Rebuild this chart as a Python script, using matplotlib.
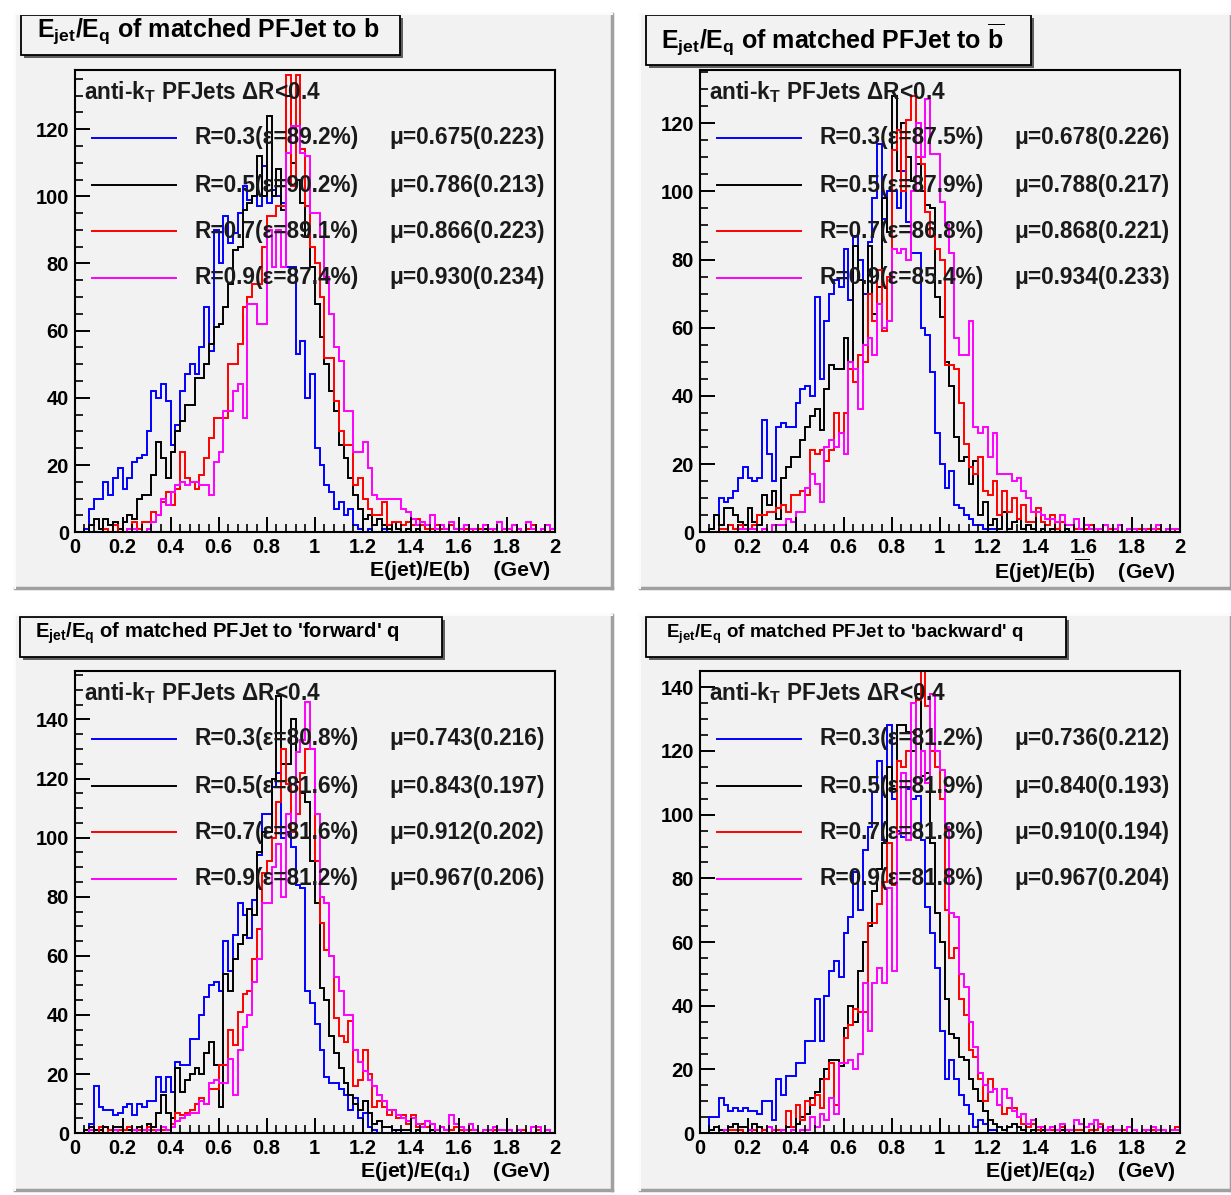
import numpy as np
import matplotlib
matplotlib.use("Agg")
import matplotlib.pyplot as plt
from matplotlib.patches import Rectangle
from matplotlib.ticker import MultipleLocator, FuncFormatter

plt.rcParams['font.family'] = ['Liberation Sans', 'DejaVu Sans']
plt.rcParams['font.weight'] = 'bold'
plt.rcParams['mathtext.fontset'] = 'custom'
plt.rcParams['mathtext.rm'] = 'Liberation Sans:bold'
plt.rcParams['mathtext.it'] = 'Liberation Sans:bold'
plt.rcParams['mathtext.bf'] = 'Liberation Sans:bold'
plt.rcParams['mathtext.default'] = 'rm'

# 100 bins of width 0.02 between 0 and 2
edges = np.linspace(0, 2, 101)

# ---- panel 1: matched to b ----
blue_b = [0,0,1,7,10,10,15,11,16,19, 13,16,21,22,23,30,42,40,44,39,
          26,32,42,47,50,47,55,67,54,90, 80,94,86,89,95,103,99,100,97,109,
          98,102,100,98,79,79,53,57,40,47, 25,20,14,12,7,9,5,7,2,1,
          0,1,0,0,1,0,0,0,0,0, 0,0,0,0,0,0,0,0,0,0,
          0,0,0,0,0,0,0,0,0,0, 0,0,0,0,0,0,0,0,0,0]
black_b = [0,0,0,2,4,1,4,2,3,1, 3,5,4,10,11,11,17,27,22,16,
           24,30,33,38,38,46,46,50,56,61, 62,67,74,84,85,96,98,100,112,100,
           124,100,108,96,130,110,105,98,88,79, 68,58,50,42,36,26,22,16,11,7,
           4,5,2,4,2,1,3,1,0,1, 0,1,0,0,1,0,0,0,0,0,
           0,0,0,0,0,1,0,0,0,0, 0,0,0,0,0,0,0,0,0,0]
red_b = [0,0,0,0,0,0,1,0,2,0, 0,1,3,1,3,3,6,5,9,12,
         8,13,24,16,15,13,17,22,28,34, 34,34,50,50,56,67,70,74,74,85,
         94,94,97,97,136,103,136,114,97,85, 80,70,52,52,39,30,26,26,14,16,
         10,7,5,5,9,2,3,3,2,3, 2,4,2,1,1,2,1,1,2,1,
         0,1,0,1,1,0,1,0,0,1, 1,0,1,0,1,2,0,1,0,1]
mag_b = [0,0,0,0,0,0,0,0,0,0, 0,1,1,0,0,1,3,5,10,8,
         12,14,15,14,15,15,14,14,11,21, 24,36,36,42,44,34,68,68,62,62,
         90,79,90,79,113,121,121,113,112,95, 95,88,76,65,55,51,36,36,24,24,
         27,19,11,10,10,10,10,10,7,6, 4,2,3,2,5,1,2,1,3,1,
         1,2,1,1,0,2,1,1,3,1, 1,2,1,0,3,1,0,1,2,1]

# ---- panel 2: matched to b-bar ----
blue_bb = [0,0,1,5,10,9,10,12,16,19, 16,15,16,33,23,15,31,32,31,31,
           38,42,43,40,69,45,62,70,74,72, 83,68,87,80,70,85,98,114,92,100,
           100,95,106,91,82,82,60,58,47,29, 20,13,18,8,7,5,4,2,2,1,
           1,1,0,0,0,0,0,0,0,0, 0,0,0,0,0,0,0,0,0,0,
           0,0,0,0,0,0,0,0,0,0, 0,0,0,0,0,0,0,0,0,0]
black_bb = [0,0,1,5,2,7,7,5,3,2, 7,3,2,11,8,12,4,16,19,22,
            22,27,31,34,36,30,42,49,48,48, 57,50,84,74,50,84,64,72,98,88,
            128,106,120,110,103,108,100,96,95,69, 63,50,43,28,21,22,14,21,5,9,
            2,4,1,6,1,3,4,1,2,1, 0,1,0,1,1,0,1,0,0,0,
            0,0,0,0,0,0,0,0,0,0, 0,0,0,0,0,0,0,0,0,0]
red_bb = [0,0,0,0,1,1,2,1,2,1, 1,2,5,5,6,6,7,8,6,11,
          11,12,11,24,23,24,21,24,35,29, 35,48,44,52,50,70,62,77,59,75,
          112,118,100,121,128,110,108,94,87,83, 80,49,49,48,38,26,19,17,22,12,
          11,15,5,12,6,10,4,8,3,3, 7,3,2,5,1,3,2,2,1,1,
          1,2,0,1,0,1,1,0,0,1, 0,1,0,1,0,1,0,1,0,1]
mag_bb = [0,0,0,0,0,0,0,0,1,1, 1,1,0,1,0,2,2,2,4,3,
          6,6,13,17,14,9,25,27,25,29, 23,50,48,36,55,57,52,67,60,62,
          83,82,83,80,100,120,110,127,111,111, 97,90,82,57,52,52,62,31,29,31,
          22,29,17,17,17,15,16,12,10,6, 6,5,4,4,3,5,2,2,4,1,
          2,1,1,1,2,0,1,2,0,1, 1,0,1,0,1,2,0,1,1,1]

# ---- panel 3: matched to forward q ----
blue_q1 = [0,0,1,3,16,9,8,8,6,7, 9,10,6,10,9,11,11,19,14,19,
           14,24,23,23,32,32,40,46,50,51, 48,65,55,67,78,74,66,79,94,108,
           108,117,122,100,102,97,84,83,48,44, 37,28,19,17,17,15,13,8,12,5,
           7,2,1,0,0,0,0,1,0,0, 0,0,0,0,0,0,0,0,0,0,
           0,0,0,0,0,0,0,0,0,0, 0,0,0,0,0,0,0,0,0,0]
black_q1 = [0,0,1,2,1,1,2,1,2,2, 1,1,1,2,1,3,2,7,13,7,
            5,22,14,18,20,22,20,27,31,23, 9,54,48,59,64,67,76,74,95,102,
            102,120,148,125,125,140,119,115,112,92, 78,49,45,33,27,22,17,13,10,8,
            11,7,3,4,2,2,1,1,1,1, 0,1,0,0,1,0,0,0,0,0,
            0,0,0,0,0,0,0,0,0,0, 0,0,0,0,0,0,0,0,0,0]
red_q1 = [0,0,0,1,0,2,0,1,0,1, 1,2,1,1,0,2,1,0,1,1,
          3,7,6,7,8,10,12,10,15,15, 23,23,35,30,41,47,48,59,69,88,
          92,100,112,130,118,102,108,122,130,130, 92,71,62,60,39,33,31,38,16,18,
          28,20,9,11,9,6,8,5,6,3, 6,2,3,2,3,1,2,1,1,2,
          1,0,1,1,0,1,0,1,0,0, 1,0,0,1,0,0,1,0,0,0]
mag_q1 = [0,0,0,1,0,0,0,0,1,0, 0,0,1,0,1,1,0,1,2,1,
          2,4,5,6,7,7,11,10,17,18, 17,17,25,13,28,36,40,51,59,78,
          78,90,98,80,108,105,129,133,146,130, 108,80,78,60,53,48,40,40,28,24,
          21,18,16,13,11,8,8,6,5,4, 5,3,2,4,3,1,2,1,6,3,
          2,1,3,1,0,1,1,2,1,1, 1,0,1,0,0,2,2,0,1,0]

# ---- panel 4: matched to backward q ----
blue_q2 = [0,0,5,5,11,9,7,8,7,8, 7,7,6,10,10,4,17,12,18,18,
           22,22,29,29,42,29,43,51,54,49, 63,68,82,70,89,96,107,117,92,128,
           105,95,93,108,105,106,92,71,63,52, 32,17,23,17,12,9,6,2,4,3,
           1,1,0,0,0,0,0,0,0,0, 0,0,0,0,0,0,0,0,0,0,
           0,0,0,0,0,0,0,0,0,0, 0,0,0,0,0,0,0,0,0,0]
black_q2 = [0,0,1,2,1,1,2,3,2,2, 1,3,2,0,2,1,1,1,2,2,
            3,5,6,11,13,17,20,23,23,21, 33,40,35,51,60,65,76,83,91,115,
            108,128,128,126,120,138,112,113,91,69, 60,42,31,30,24,23,17,14,10,7,
            4,3,2,1,2,3,2,1,0,1, 0,1,0,0,0,1,0,0,0,0,
            0,0,0,0,0,0,0,0,0,0, 0,0,0,0,0,0,0,0,0,0]
red_q2 = [0,0,0,0,0,0,1,1,1,0, 0,1,0,1,0,1,1,0,7,2,
          9,4,10,9,12,8,17,22,9,22, 30,34,39,38,38,66,66,72,79,91,
          78,117,115,120,126,136,146,134,120,115, 105,70,55,58,42,37,26,24,17,10,
          17,14,9,6,8,8,5,3,2,3, 1,2,1,1,0,2,1,0,1,1,
          0,1,1,3,0,1,0,0,1,0, 0,0,1,0,1,0,0,0,1,2]
mag_q2 = [0,0,0,0,0,1,0,0,0,0, 1,0,0,0,2,1,0,1,0,1,
          0,1,1,5,2,6,4,11,6,22, 22,23,20,25,47,32,47,52,47,77,
          51,94,113,92,135,110,120,110,138,120, 114,96,69,68,50,46,35,27,19,15,
          13,14,9,14,11,7,5,6,3,4, 2,2,1,2,1,3,1,1,4,3,
          2,3,4,2,1,2,1,1,0,2, 1,0,1,1,2,1,1,0,1,1]

radii = ['0.3', '0.5', '0.7', '0.9']
colors = ['#0000ff', '#000000', '#ff0000', '#ff00ff']

titles = [r'E$_{jet}$/E$_{q}$ of matched PFJet to b',
          r'E$_{jet}$/E$_{q}$ of matched PFJet to $\overline{b}$',
          r"E$_{jet}$/E$_{q}$ of matched PFJet to 'forward' q",
          r"E$_{jet}$/E$_{q}$ of matched PFJet to 'backward' q"]
xlabels = [r'E(jet)/E(b)    (GeV)',
           r'E(jet)/E($\overline{b}$)    (GeV)',
           r'E(jet)/E(q$_{1}$)    (GeV)',
           r'E(jet)/E(q$_{2}$)    (GeV)']
effs = [['89.2', '90.2', '89.1', '87.4'],
        ['87.5', '87.9', '86.8', '85.4'],
        ['80.8', '81.6', '81.6', '81.2'],
        ['81.2', '81.9', '81.8', '81.8']]
mus = [['0.675(0.223)', '0.786(0.213)', '0.866(0.223)', '0.930(0.234)'],
       ['0.678(0.226)', '0.788(0.217)', '0.868(0.221)', '0.934(0.233)'],
       ['0.743(0.216)', '0.843(0.197)', '0.912(0.202)', '0.967(0.206)'],
       ['0.736(0.212)', '0.840(0.193)', '0.910(0.194)', '0.967(0.204)']]
hists = [[blue_b, black_b, red_b, mag_b],
         [blue_bb, black_bb, red_bb, mag_bb],
         [blue_q1, black_q1, red_q1, mag_q1],
         [blue_q2, black_q2, red_q2, mag_q2]]
ymax = [137.6, 135.6, 156.4, 145.1]

W, H = 1231, 1195
fig = plt.figure(figsize=(W / 100, H / 100), dpi=100)
fig.patch.set_facecolor('white')

# background layer in pixel coordinates (pads, title boxes)
bg = fig.add_axes([0, 0, 1, 1], zorder=0)
bg.set_xlim(0, W)
bg.set_ylim(H, 0)
bg.axis('off')

pads = [(15, 14, 612, 588), (640, 14, 1231, 588),
        (15, 615, 612, 1190), (640, 615, 1231, 1190)]
tboxes = [(21, 15, 400, 55), (646, 15, 1031, 65),
          (20, 617, 442, 657), (646, 617, 1066, 657)]
tpos = [(37, 37, 18), (661, 48, 18), (35, 638, 14.5), (666, 638, 13.5)]
frames = [(74.5, 70), (699.5, 70), (74.5, 671), (699.5, 671)]
fw, fh = 480.5, 462.2

for k in range(4):
    x0, y0, x1, y1 = pads[k]
    bg.add_patch(Rectangle((x0, y0), x1 - x0, y1 - y0, fc='#f2f2f2', ec='none'))
    bg.plot([x0, x1], [y1, y1], color='#a0a0a0', lw=2.5)
    bg.plot([x1, x1], [y0, y1], color='#a0a0a0', lw=2.5)
    bg.plot([x0, x1], [y0, y0], color='#fbfbfb', lw=1.5)
    bg.plot([x0, x0], [y0, y1], color='#fbfbfb', lw=1.5)

    bx0, by0, bx1, by1 = tboxes[k]
    bg.add_patch(Rectangle((bx0 + 3, by0 + 3), bx1 - bx0, by1 - by0, fc='#606060', ec='none'))
    bg.add_patch(Rectangle((bx0, by0), bx1 - bx0, by1 - by0, fc='#f2f2f2', ec='black', lw=1.3))
    tx, ty, ts = tpos[k]
    bg.text(tx, ty, titles[k], fontsize=ts, fontweight='bold', va='baseline', ha='left')

for k in range(4):
    fx, fy = frames[k]
    ax = fig.add_axes([fx / W, 1 - (fy + fh) / H, fw / W, fh / H], zorder=1)
    ax.set_facecolor('none')
    for vals, c in zip(hists[k], colors):
        ax.stairs(vals, edges, color=c, lw=1.4, baseline=0)
    ax.set_xlim(0, 2)
    ax.set_ylim(0, ymax[k])
    for s in ax.spines.values():
        s.set_linewidth(1.5)
    ax.xaxis.set_major_locator(MultipleLocator(0.2))
    ax.xaxis.set_minor_locator(MultipleLocator(0.04))
    ax.yaxis.set_major_locator(MultipleLocator(20))
    ax.yaxis.set_minor_locator(MultipleLocator(5))
    ax.xaxis.set_major_formatter(FuncFormatter(lambda v, p: '%g' % round(v, 2)))
    ax.tick_params(axis='both', which='major', direction='in', length=11, width=1.4,
                   labelsize=14.5, top=False, right=False)
    ax.tick_params(axis='both', which='minor', direction='in', length=5.5, width=1.2,
                   top=False, right=False)
    ax.tick_params(axis='x', which='major', pad=4)
    ax.tick_params(axis='y', which='major', pad=4)
    for lab in ax.get_xticklabels() + ax.get_yticklabels():
        lab.set_fontweight('bold')

    ax.text(0.02, 0.952, r'anti-k$_{T}$ PFJets $\Delta$R<0.4', transform=ax.transAxes,
            fontsize=16.3, fontweight='bold', va='center', ha='left', color='#1a1a1a', zorder=5)
    rows = [0.853, 0.751, 0.651, 0.551]
    for j in range(4):
        ax.plot([0.037, 0.211], [rows[j], rows[j]], color=colors[j], lw=1.4,
                transform=ax.transAxes, clip_on=False)
        ax.text(0.249, rows[j], 'R=%s(\u03b5=%s%%)' % (radii[j], effs[k][j]),
                transform=ax.transAxes, fontsize=16.3, fontweight='bold',
                va='center', ha='left', color='#1a1a1a', zorder=5)
        ax.text(0.656, rows[j], '\u03bc=%s' % mus[k][j], transform=ax.transAxes,
                fontsize=16.3, fontweight='bold', va='center', ha='left', color='#1a1a1a', zorder=5)
    ax.text(0.99, -0.083, xlabels[k], transform=ax.transAxes, fontsize=15.3,
            fontweight='bold', va='center', ha='right')

fig.savefig('out.png', dpi=100)
